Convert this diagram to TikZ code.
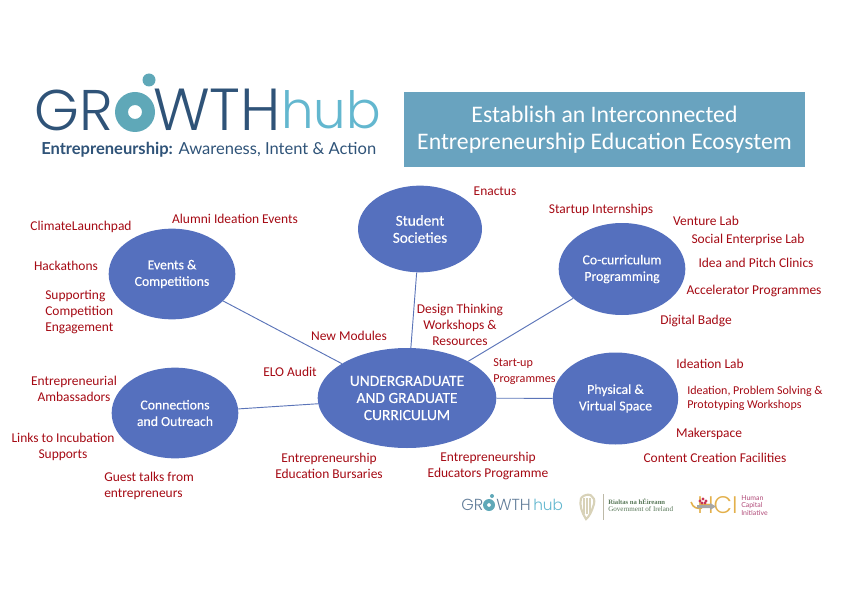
\documentclass[tikz,border=0pt]{standalone}
\usepackage{fontspec}
\setmainfont{Carlito}
\newfontfamily\hubfont[FakeBold=0.25]{Carlito}
\newfontfamily\logofont[UprightFont=* Light]{Poppins}
\newfontfamily\tagfont{Lato}
\usetikzlibrary{shapes.geometric}
\definecolor{hubblue}{HTML}{5570BE}
\definecolor{edgeblue}{HTML}{5B74B8}
\definecolor{itemred}{HTML}{A50A14}
\definecolor{titleblue}{HTML}{69A3BF}
\definecolor{logonavy}{HTML}{2F5378}
\definecolor{logoteal}{HTML}{5FA8B8}
\definecolor{logosky}{HTML}{63B7CF}
\definecolor{harptan}{HTML}{D8D2B8}
\definecolor{hcigold}{HTML}{E3B04B}
\definecolor{hcipink}{HTML}{B04A78}
\tikzset{
  hubnode/.style={ellipse,fill=hubblue,text=white,align=center,inner sep=0pt,font=\hubfont\fontsize{10.3}{12.4}\selectfont},
  item/.style={text=itemred,align=center,inner sep=0pt,yshift=-1.5pt,font=\fontsize{10.1}{12.1}\selectfont},
  link/.style={draw=edgeblue,line width=0.7pt}
}
\begin{document}
\begin{tikzpicture}[x=0.75pt,y=-0.75pt]
  \useasboundingbox (0,0) rectangle (841,595);
  % logo
  \node[anchor=west,inner sep=0pt,text=logonavy,font=\logofont\fontsize{43}{43}\selectfont] (lgr) at (34,110) {GR};
  \node[anchor=west,inner sep=0pt,text=logonavy,font=\logofont\fontsize{44.5}{44}\selectfont] (lwth) at (153,110) {WTH};
  \node[anchor=west,inner sep=0pt,text=logosky,font=\logofont\fontsize{38.5}{40}\selectfont] (lhub) at (281,110) {hub};
  \fill[logoteal,even odd rule] (135,112) circle (20) (135,112) circle (7);
  \fill[logoteal] (149,80) circle (6.5);
  \node[anchor=west,inner sep=0pt,text=logonavy,font=\tagfont\fontsize{12.4}{14}\selectfont] (ltag) at (41,150) {\textbf{Entrepreneurship:} Awareness, Intent \& Action};
  % title
  \node[fill=titleblue,text=white,align=center,minimum width=300.75pt,minimum height=56.25pt,inner sep=0pt,font=\fontsize{17.8}{20.5}\selectfont] (title) at (604.5,129.5) {Establish an Interconnected\\Entrepreneurship Education Ecosystem};
  % ellipses
  \node[hubnode,minimum width=134pt,minimum height=75pt,font=\hubfont\fontsize{11.6}{12.8}\selectfont] (UG) at (407,398) {UNDERGRADUATE\\AND GRADUATE\\CURRICULUM};
  \node[hubnode,minimum width=93pt,minimum height=65pt,font=\hubfont\fontsize{11.4}{12.8}\selectfont] (SS) at (420,229) {Student\\Societies};
  \node[hubnode,minimum width=95pt,minimum height=68pt] (EC) at (172,274) {Events \&\\Competitions};
  \node[hubnode,minimum width=95pt,minimum height=69pt] (CP) at (622,269) {Co-curriculum\\Programming};
  \node[hubnode,minimum width=94pt,minimum height=69pt] (PV) at (615.5,398.5) {Physical \&\\Virtual Space};
  \node[hubnode,minimum width=95pt,minimum height=68pt] (CO) at (175,413) {Connections\\and Outreach};
  \path[link] (UG) edge (SS);
  \path[link] (UG) edge (EC);
  \path[link] (UG) edge (CP);
  \path[link] (UG) edge (PV);
  \path[link] (UG) edge (CO);
  % items
  \node[item] (i1) at (495,189) {Enactus};
  \node[item] (i2) at (81,225) {ClimateLaunchpad};
  \node[item] (i3) at (235,217) {Alumni Ideation Events};
  \node[item] (i4) at (66,264) {Hackathons};
  \node[item,anchor=west,align=left] (i5) at (45,310) {Supporting\\Competition\\Engagement};
  \node[item] (i6) at (601,208) {Startup Internships};
  \node[item] (i7) at (706,219) {Venture Lab};
  \node[item] (i8) at (748,238) {Social Enterprise Lab};
  \node[item] (i9) at (756,261) {Idea and Pitch Clinics};
  \node[item] (i10) at (754,289) {Accelerator Programmes};
  \node[item] (i11) at (696,319) {Digital Badge};
  \node[item] (i12) at (460,323) {Design Thinking\\Workshops \&\\Resources};
  \node[item] (i13) at (349,334) {New Modules};
  \node[item] (i14) at (290,370) {ELO Audit};
  \node[item,anchor=west,align=left,font=\fontsize{9.1}{12}\selectfont] (i15) at (493,370) {Start-up\\Programmes};
  \node[item] (i16) at (710,362) {Ideation Lab};
  \node[item,anchor=west,align=left,font=\fontsize{9}{10.4}\selectfont] (i17) at (687,396) {Ideation, Problem Solving \&\\Prototyping Workshops};
  \node[item] (i18) at (709,432) {Makerspace};
  \node[item] (i19) at (715,456) {Content Creation Facilities};
  \node[item] (i20) at (74,387) {Entrepreneurial\\Ambassadors};
  \node[item] (i21) at (63,445) {Links to Incubation\\Supports};
  \node[item,anchor=west,align=left] (i22) at (104,484) {Guest talks from\\entrepreneurs};
  \node[item] (i23) at (329,464) {Entrepreneurship\\Education Bursaries};
  \node[item] (i24) at (488,464) {Entrepreneurship\\Educators Programme};
  % partner logos
  \node[anchor=west,inner sep=0pt,text=logonavy!75,font=\logofont\fontsize{12}{12}\selectfont] (pgr) at (461,505) {GR};
  \node[anchor=west,inner sep=0pt,text=logonavy!75,font=\logofont\fontsize{12}{12}\selectfont] (pwth) at (496,505) {WTH};
  \node[anchor=west,inner sep=0pt,text=logosky,font=\logofont\fontsize{11.5}{12}\selectfont] (phub) at (533,505) {hub};
  \fill[logoteal,even odd rule] (489,505) circle (6) (489,505) circle (2);
  \fill[logoteal] (492,496) circle (2);
  \draw[harptan,line width=1.6pt] (581,498) .. controls (588,491) and (596,496) .. (594,504) .. controls (592,511) and (589,517) .. (586,519) .. controls (582,513) and (579,505) .. (581,498);
  \foreach \hx in {584,587,590} \draw[harptan,line width=0.8pt] (\hx,498) -- (\hx,514);
  \draw[harptan!70!gray,line width=0.6pt] (603,494) -- (603,520);
  \node[anchor=west,inner sep=0pt,text=black!60!green!30!gray,font=\fontspec{Liberation Serif}\bfseries\fontsize{5}{6}\selectfont] (pria) at (608,502) {Rialtas na hÉireann};
  \node[anchor=west,inner sep=0pt,text=black!60!green!30!gray,font=\fontspec{Liberation Serif}\fontsize{5.3}{6}\selectfont] (pgov) at (608,509) {Government of Ireland};
  \draw[hcigold,line width=1.2pt] (691,502) .. controls (693,508) and (697,509) .. (702,508);
  \node[anchor=west,inner sep=0pt,text=hcigold,font=\logofont\fontsize{18}{18}\selectfont] (phci) at (697,505) {HCI};
  \foreach \bx/\by in {700/501,703/499,706/501,702/503,705/503} \fill[hcipink!70!red] (\bx,\by) circle (1.6);
  \fill[gray!70] (697,505) -- (710,505) -- (710,503) -- (716,506.5) -- (710,510) -- (710,508) -- (697,508) -- cycle;
  \node[anchor=west,inner sep=0pt,text=hcipink,align=left,font=\fontspec{Lato}\fontsize{5.2}{5.6}\selectfont] (phum) at (741,505.5) {Human\\Capital\\Initiative};
\end{tikzpicture}
\end{document}
